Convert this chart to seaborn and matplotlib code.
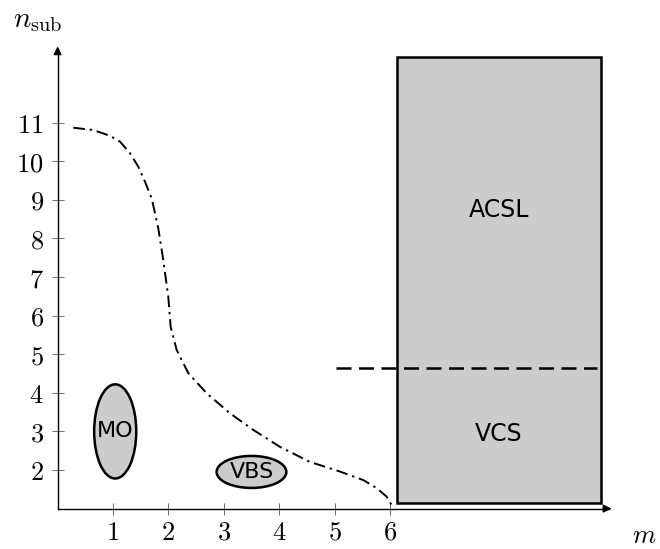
import matplotlib
matplotlib.use("Agg")
import matplotlib.pyplot as plt
from matplotlib.patches import Ellipse, Rectangle
import seaborn as sns
import pandas as pd

# ---- data ----
curve_m = [0.283, 0.644, 0.946, 1.126, 1.307, 1.457, 1.578, 1.699, 1.818, 1.908, 1.998, 2.041,
           2.150, 2.359, 2.691, 3.112, 3.532, 4.014, 4.556, 5.097, 5.518, 5.760, 5.940, 6.031]
curve_n = [10.87, 10.81, 10.66, 10.51, 10.21, 9.86, 9.47, 9.04, 8.26, 7.44, 6.49, 5.71,
           5.11, 4.51, 3.99, 3.47, 3.04, 2.60, 2.21, 1.96, 1.74, 1.53, 1.31, 1.09]
x_ticks = [1, 2, 3, 4, 5, 6]
y_ticks = [2, 3, 4, 5, 6, 7, 8, 9, 10, 11]
region_names = ["MO", "VBS"]
region_center_m = [1.04, 3.5]
region_center_n = [3.0, 1.95]
region_width = [0.76, 1.26]
region_height = [2.44, 0.83]
box_m = [6.13, 9.81]
box_n = [1.14, 12.7]
split_n = 4.64
split_m = [5.03, 9.74]
box_labels = ["ACSL", "VCS"]
box_label_n = [8.74, 2.93]

sns.set_theme(style="white")
plt.rcParams["mathtext.fontset"] = "cm"
plt.rcParams["font.family"] = ["DejaVu Sans"]
plt.rcParams["text.color"] = "black"
plt.rcParams["xtick.color"] = "#555555"
plt.rcParams["ytick.color"] = "#555555"
plt.rcParams["xtick.labelcolor"] = "black"
plt.rcParams["ytick.labelcolor"] = "black"

fig = plt.figure(figsize=(6.6, 5.49), dpi=100)
ax = fig.add_axes([57.6 / 660, (549 - 508.6) / 549, 565 / 660, (508.6 - 37.8) / 549])
ax.set_xlim(0, 10.2)
ax.set_ylim(1.0, 13.2)

# box
ax.add_patch(Rectangle((box_m[0], box_n[0]), box_m[1] - box_m[0], box_n[1] - box_n[0],
                       facecolor="#cccccc", edgecolor="black", lw=1.8, zorder=2))
ax.plot(split_m, [split_n, split_n], color="black", lw=1.8, linestyle=(0, (6, 3)), zorder=3)
for lab, yy in zip(box_labels, box_label_n):
    ax.text((box_m[0] + box_m[1]) / 2, yy, lab, ha="center", va="center", fontsize=17,
            color="black", zorder=4)

# ellipses
for name, cx, cy, w, h in zip(region_names, region_center_m, region_center_n, region_width, region_height):
    ax.add_patch(Ellipse((cx, cy), w, h, facecolor="#cccccc", edgecolor="black", lw=1.8, zorder=2))
    ax.text(cx, cy, name, ha="center", va="center", fontsize=16, color="black", zorder=4)

# curve
df = pd.DataFrame({"m": curve_m, "n": curve_n})
sns.lineplot(data=df, x="m", y="n", sort=False, ax=ax, color="black", lw=1.4,
             linestyle=(0, (6, 2.5, 1.2, 2.5)), zorder=3)
ax.set_xlabel("")
ax.set_ylabel("")

# axes
for s in ["top", "right"]:
    ax.spines[s].set_visible(False)
ax.spines["left"].set_bounds(1.0, 12.9)
ax.spines["bottom"].set_bounds(0, 9.95)
for s in ["left", "bottom"]:
    ax.spines[s].set_color("black")
    ax.spines[s].set_linewidth(1.0)
ax.annotate("", xy=(10.05, 1.0), xytext=(9.8, 1.0),
            arrowprops=dict(arrowstyle="-|>", color="black", lw=1.0, mutation_scale=12))
ax.annotate("", xy=(0, 13.05), xytext=(0, 12.7),
            arrowprops=dict(arrowstyle="-|>", color="black", lw=1.0, mutation_scale=12))

ax.set_xticks(x_ticks)
ax.set_xticklabels([f"${v}$" for v in x_ticks])
ax.set_yticks(y_ticks)
ax.set_yticklabels([f"${v}$" for v in y_ticks])
ax.tick_params(axis="both", direction="inout", length=8, width=0.6,
               labelsize=19, bottom=True, left=True)
ax.tick_params(axis="y", pad=6)
ax.tick_params(axis="x", pad=4)

fig.text(38 / 660, 1 - 20 / 549, r"$n_{\mathrm{sub}}$", ha="center", va="center", fontsize=21)
fig.text(644 / 660, 1 - 536 / 549, r"$m$", ha="center", va="center", fontsize=19)

fig.savefig("out.png", dpi=100)
